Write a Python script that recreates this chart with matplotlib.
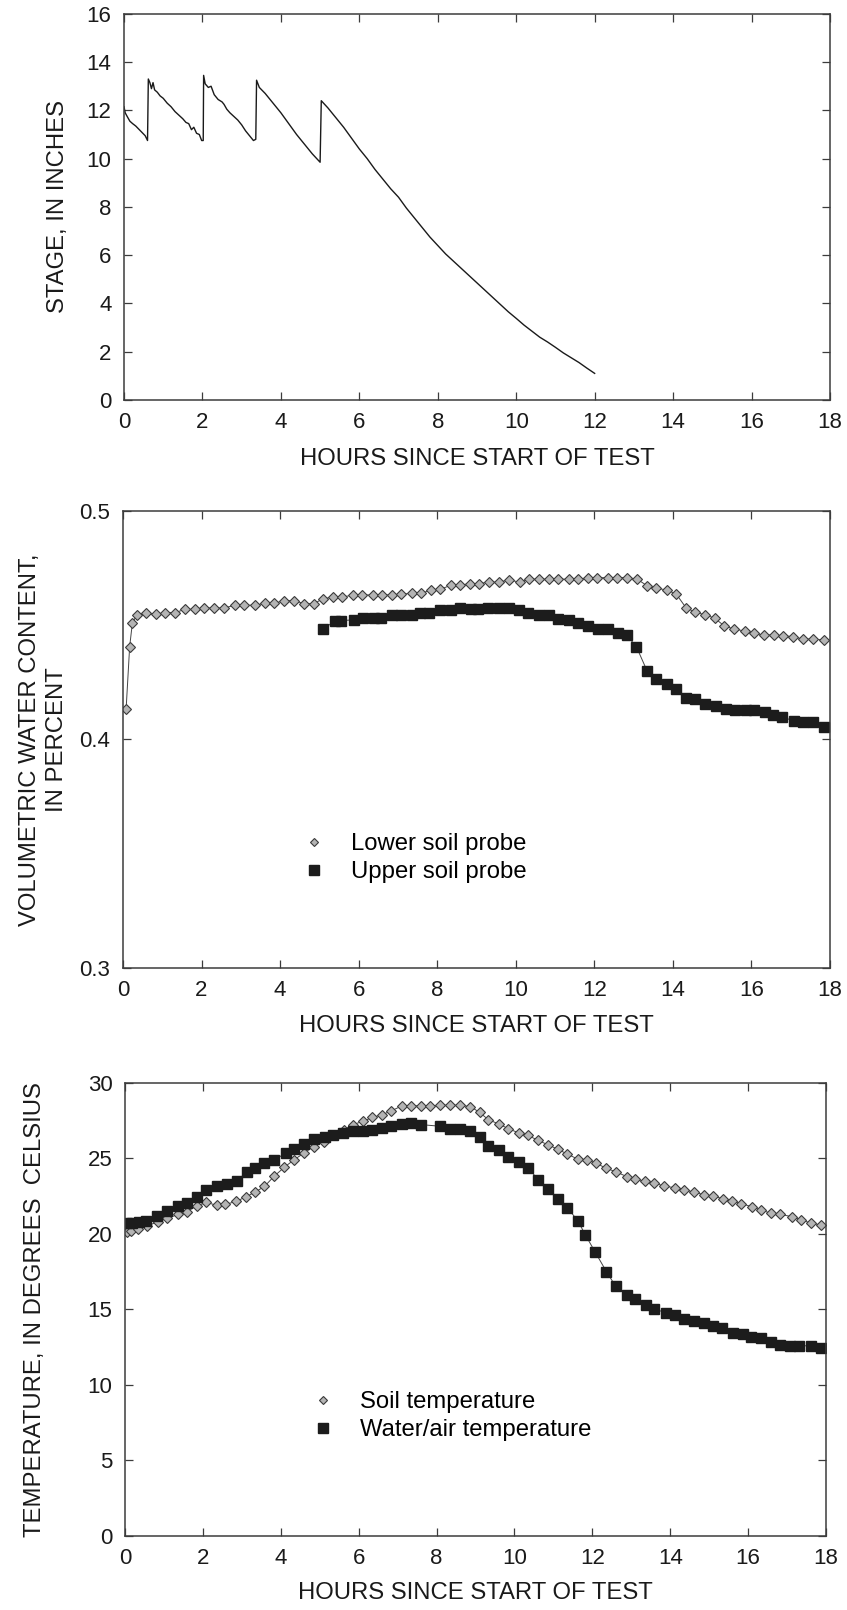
import numpy as np
import matplotlib
matplotlib.use("Agg")
import matplotlib.pyplot as plt
from matplotlib.lines import Line2D

plt.rcParams['font.family'] = ['Liberation Sans', 'DejaVu Sans']

# --- stage record (panel 1) ---
stage_hours = [0.00, 0.03, 0.08, 0.15, 0.22, 0.30, 0.36, 0.42, 0.48, 0.54, 0.60,
               0.62, 0.66, 0.70, 0.74, 0.78, 0.85, 0.92, 1.00, 1.10, 1.20, 1.30,
               1.40, 1.50, 1.58, 1.65, 1.72, 1.78, 1.85, 1.92, 1.98, 2.02,
               2.03, 2.07, 2.15, 2.22, 2.30, 2.40, 2.50, 2.55, 2.62, 2.70, 2.80,
               2.90, 3.00, 3.10, 3.20, 3.30, 3.36,
               3.38, 3.45, 3.60, 3.80, 4.00, 4.20, 4.40, 4.60, 4.80, 5.00,
               5.03, 5.20, 5.40, 5.60, 5.80, 6.00, 6.20, 6.40, 6.60, 6.80, 7.00,
               7.20, 7.40, 7.60, 7.80, 8.00, 8.20, 8.40, 8.60, 8.80, 9.00, 9.20,
               9.40, 9.60, 9.80, 10.00, 10.20, 10.40, 10.60, 10.80, 11.00, 11.20,
               11.40, 11.60, 11.80, 12.00]
stage_in = [12.15, 11.90, 11.75, 11.55, 11.45, 11.35, 11.25, 11.15, 11.05, 10.95, 10.75,
            13.30, 13.15, 12.90, 13.15, 12.85, 12.75, 12.60, 12.50, 12.30, 12.15, 11.95,
            11.80, 11.65, 11.50, 11.45, 11.20, 11.30, 11.05, 11.00, 10.75, 10.75,
            13.45, 13.10, 12.95, 13.00, 12.65, 12.45, 12.35, 12.25, 12.05, 11.90, 11.75,
            11.60, 11.40, 11.15, 10.95, 10.75, 10.80,
            13.25, 12.95, 12.70, 12.30, 11.90, 11.45, 11.00, 10.60, 10.20, 9.85,
            12.40, 12.10, 11.70, 11.30, 10.85, 10.40, 10.00, 9.55, 9.15, 8.75, 8.40,
            7.95, 7.55, 7.15, 6.75, 6.40, 6.05, 5.75, 5.45, 5.15, 4.85, 4.55,
            4.25, 3.95, 3.65, 3.38, 3.10, 2.85, 2.60, 2.40, 2.18, 1.95,
            1.75, 1.55, 1.32, 1.10]

# --- volumetric water content (panel 2) ---
lower_hours = [0.08, 0.17, 0.24, 0.36, 0.58, 0.84, 1.08, 1.32, 1.59, 1.83, 2.07, 2.31,
               2.57, 2.85, 3.09, 3.37, 3.61, 3.85, 4.11, 4.35, 4.62, 4.86, 5.10, 5.34,
               5.58, 5.85, 6.09, 6.36, 6.60, 6.84, 7.08, 7.36, 7.60, 7.84, 8.08, 8.34,
               8.58, 8.83, 9.07, 9.31, 9.58, 9.82, 10.10, 10.34, 10.58, 10.84, 11.08,
               11.35, 11.59, 11.83, 12.07, 12.34, 12.58, 12.82, 13.09, 13.34, 13.58,
               13.85, 14.09, 14.33, 14.57, 14.83, 15.07, 15.31, 15.56, 15.83, 16.07,
               16.31, 16.57, 16.81, 17.05, 17.31, 17.57, 17.84]
lower_vwc = [0.4134, 0.4406, 0.4511, 0.4545, 0.4552, 0.4547, 0.4555, 0.4555, 0.4569,
             0.4569, 0.4575, 0.4575, 0.4575, 0.4587, 0.4587, 0.4587, 0.4596, 0.4596,
             0.4607, 0.4607, 0.4594, 0.4594, 0.4616, 0.4622, 0.4622, 0.4632, 0.4632,
             0.4632, 0.4632, 0.4632, 0.4636, 0.4639, 0.4639, 0.4654, 0.4657, 0.4674,
             0.4674, 0.4682, 0.4682, 0.4688, 0.4688, 0.4698, 0.4688, 0.4701, 0.4701,
             0.4701, 0.4701, 0.4701, 0.4701, 0.4707, 0.4707, 0.4708, 0.4708, 0.4708,
             0.4701, 0.4673, 0.4661, 0.4654, 0.4635, 0.4577, 0.4556, 0.4545, 0.4530,
             0.4496, 0.4483, 0.4474, 0.4464, 0.4457, 0.4457, 0.4453, 0.4450, 0.4439,
             0.4439, 0.4435]
upper_hours = [5.10, 5.40, 5.55, 5.88, 6.12, 6.39, 6.57, 6.84, 7.08, 7.36, 7.57, 7.80,
               8.08, 8.34, 8.59, 8.86, 9.04, 9.30, 9.58, 9.82, 10.08, 10.32, 10.58,
               10.84, 11.08, 11.35, 11.59, 11.84, 12.10, 12.34, 12.61, 12.82, 13.07,
               13.34, 13.58, 13.85, 14.09, 14.33, 14.57, 14.83, 15.11, 15.35, 15.59,
               15.85, 16.07, 16.35, 16.55, 16.79, 17.09, 17.31, 17.57, 17.84]
upper_vwc = [0.4482, 0.4520, 0.4520, 0.4523, 0.4530, 0.4530, 0.4530, 0.4545, 0.4545,
             0.4545, 0.4555, 0.4555, 0.4566, 0.4566, 0.4574, 0.4569, 0.4569, 0.4574,
             0.4574, 0.4574, 0.4566, 0.4555, 0.4545, 0.4545, 0.4526, 0.4523, 0.4508,
             0.4498, 0.4483, 0.4483, 0.4464, 0.4457, 0.4406, 0.4301, 0.4264, 0.4241,
             0.4220, 0.4180, 0.4177, 0.4153, 0.4147, 0.4131, 0.4128, 0.4128, 0.4128,
             0.4118, 0.4107, 0.4096, 0.4082, 0.4077, 0.4077, 0.4055]

# --- temperatures (panel 3) ---
soil_hours = [0.04, 0.16, 0.33, 0.57, 0.85, 1.09, 1.36, 1.58, 1.85, 2.09, 2.35, 2.58,
              2.86, 3.10, 3.34, 3.58, 3.83, 4.09, 4.34, 4.59, 4.84, 5.10, 5.35, 5.63,
              5.86, 6.10, 6.35, 6.60, 6.84, 7.11, 7.35, 7.59, 7.84, 8.10, 8.35, 8.59,
              8.87, 9.11, 9.33, 9.60, 9.84, 10.11, 10.35, 10.61, 10.87, 11.12, 11.36,
              11.63, 11.87, 12.09, 12.36, 12.60, 12.88, 13.10, 13.34, 13.58, 13.85,
              14.12, 14.36, 14.60, 14.86, 15.10, 15.35, 15.59, 15.83, 16.10, 16.34,
              16.59, 16.83, 17.13, 17.37, 17.62, 17.86]
soil_temp = [20.12, 20.16, 20.34, 20.53, 20.81, 21.03, 21.29, 21.47, 21.86, 22.08, 21.90,
             21.95, 22.16, 22.45, 22.77, 23.14, 23.82, 24.41, 24.91, 25.34, 25.78, 26.10,
             26.52, 26.91, 27.24, 27.45, 27.71, 27.89, 28.15, 28.48, 28.48, 28.48, 28.48,
             28.52, 28.52, 28.52, 28.43, 28.04, 27.56, 27.28, 26.97, 26.69, 26.52, 26.19,
             25.89, 25.60, 25.28, 24.95, 24.91, 24.69, 24.34, 24.12, 23.80, 23.64, 23.49,
             23.38, 23.16, 23.06, 22.93, 22.77, 22.60, 22.49, 22.34, 22.19, 22.01, 21.79,
             21.58, 21.36, 21.29, 21.14, 20.92, 20.71, 20.60]
water_hours = [0.04, 0.18, 0.36, 0.55, 0.81, 1.09, 1.36, 1.58, 1.85, 2.09, 2.37, 2.61,
               2.88, 3.12, 3.34, 3.58, 3.83, 4.13, 4.34, 4.59, 4.84, 5.13, 5.35, 5.59,
               5.86, 6.10, 6.35, 6.60, 6.84, 7.11, 7.35, 7.59, 8.08, 8.35, 8.59, 8.87,
               9.11, 9.32, 9.60, 9.84, 10.11, 10.35, 10.61, 10.85, 11.12, 11.36, 11.63,
               11.82, 12.07, 12.36, 12.60, 12.88, 13.10, 13.37, 13.58, 13.88, 14.12,
               14.36, 14.60, 14.86, 15.10, 15.33, 15.61, 15.86, 16.08, 16.34, 16.59,
               16.83, 17.07, 17.31, 17.62, 17.86]
water_temp = [20.71, 20.71, 20.77, 20.86, 21.21, 21.53, 21.84, 22.05, 22.45, 22.88, 23.16,
              23.32, 23.53, 24.08, 24.34, 24.69, 24.91, 25.34, 25.60, 25.97, 26.26, 26.43,
              26.52, 26.69, 26.80, 26.80, 26.91, 27.02, 27.13, 27.28, 27.34, 27.24, 27.13,
              26.95, 26.95, 26.80, 26.41, 25.82, 25.56, 25.12, 24.78, 24.36, 23.60, 22.95,
              22.34, 21.73, 20.86, 19.94, 18.81, 17.51, 16.53, 15.96, 15.70, 15.31, 15.05,
              14.78, 14.61, 14.39, 14.24, 14.07, 13.91, 13.74, 13.46, 13.35, 13.20, 13.09,
              12.87, 12.65, 12.59, 12.59, 12.59, 12.43]

x_label = "HOURS SINCE START OF TEST"
frame_col = "#3c3c3c"
tick_fs = 16
label_fs = 17.2

fig = plt.figure(figsize=(8.47, 16.10), dpi=100)
ax1 = fig.add_axes([0.1464, 0.7516, 0.8335, 0.2398])
ax2 = fig.add_axes([0.1452, 0.3988, 0.8347, 0.2839])
ax3 = fig.add_axes([0.1476, 0.0460, 0.8276, 0.2814])


def style_axes(ax, lpad=10):
    for sp in ax.spines.values():
        sp.set_color(frame_col)
        sp.set_linewidth(1.1)
    ax.tick_params(direction='in', top=True, right=True, length=6, width=0.9,
                   color=frame_col, labelsize=tick_fs, pad=9, labelcolor='#1a1a1a')
    ax.set_xlim(0, 18)
    ax.set_xticks(range(0, 19, 2))
    ax.set_xlabel(x_label, fontsize=label_fs, color='#1a1a1a', labelpad=lpad)


# panel 1
ax1.plot(stage_hours, stage_in, color='#1a1a1a', lw=1.0)
style_axes(ax1, 10.5)
ax1.set_ylim(0, 16)
ax1.set_yticks(range(0, 17, 2))
ax1.set_ylabel("STAGE, IN INCHES", fontsize=label_fs, color='#1a1a1a', labelpad=13)

diamond_kw = dict(marker='D', markersize=5.2, markerfacecolor='#b4b4b4',
                  markeredgecolor='#3a3a3a', markeredgewidth=0.8)
square_kw = dict(marker='s', markersize=7.5, markerfacecolor='#1c1c1c',
                 markeredgecolor='#1c1c1c')

# panel 2
ax2.plot(lower_hours, lower_vwc, color='#444444', lw=0.7, **diamond_kw)
ax2.plot(upper_hours, upper_vwc, color='#444444', lw=0.7, **square_kw)
style_axes(ax2, 10)
ax2.set_ylim(0.3, 0.5)
ax2.set_yticks([0.3, 0.4, 0.5])
ax2.set_yticklabels(["0.3", "0.4", "0.5"])
ax2.set_ylabel("VOLUMETRIC WATER CONTENT,\nIN PERCENT", fontsize=label_fs,
               color='#1a1a1a', labelpad=8.5, linespacing=1.3)
h_low = Line2D([], [], linestyle='none', marker='D', markersize=4.5,
               markerfacecolor='#b4b4b4', markeredgecolor='#3a3a3a', markeredgewidth=0.8)
h_up = Line2D([], [], linestyle='none', marker='s', markersize=7.5,
              markerfacecolor='#1c1c1c', markeredgecolor='#1c1c1c')
ax2.legend([h_low, h_up], ["Lower soil probe", "Upper soil probe"], loc='upper left',
           bbox_to_anchor=(0.240, 0.316), frameon=False, fontsize=label_fs,
           handlelength=1.0, handletextpad=1.05, labelspacing=0.25, borderaxespad=0)

# panel 3
ax3.plot(soil_hours, soil_temp, color='#444444', lw=0.7, **diamond_kw)
ax3.plot(water_hours, water_temp, color='#444444', lw=0.7, **square_kw)
style_axes(ax3, 9)
ax3.set_ylim(0, 30)
ax3.set_yticks(range(0, 31, 5))
ax3.set_ylabel("TEMPERATURE, IN DEGREES  CELSIUS", fontsize=label_fs,
               color='#1a1a1a', labelpad=30)
ax3.legend([h_low, h_up], ["Soil temperature", "Water/air temperature"], loc='upper left',
           bbox_to_anchor=(0.252, 0.341), frameon=False, fontsize=label_fs,
           handlelength=1.0, handletextpad=1.05, labelspacing=0.25, borderaxespad=0)

fig.savefig("out.png", dpi=100)
